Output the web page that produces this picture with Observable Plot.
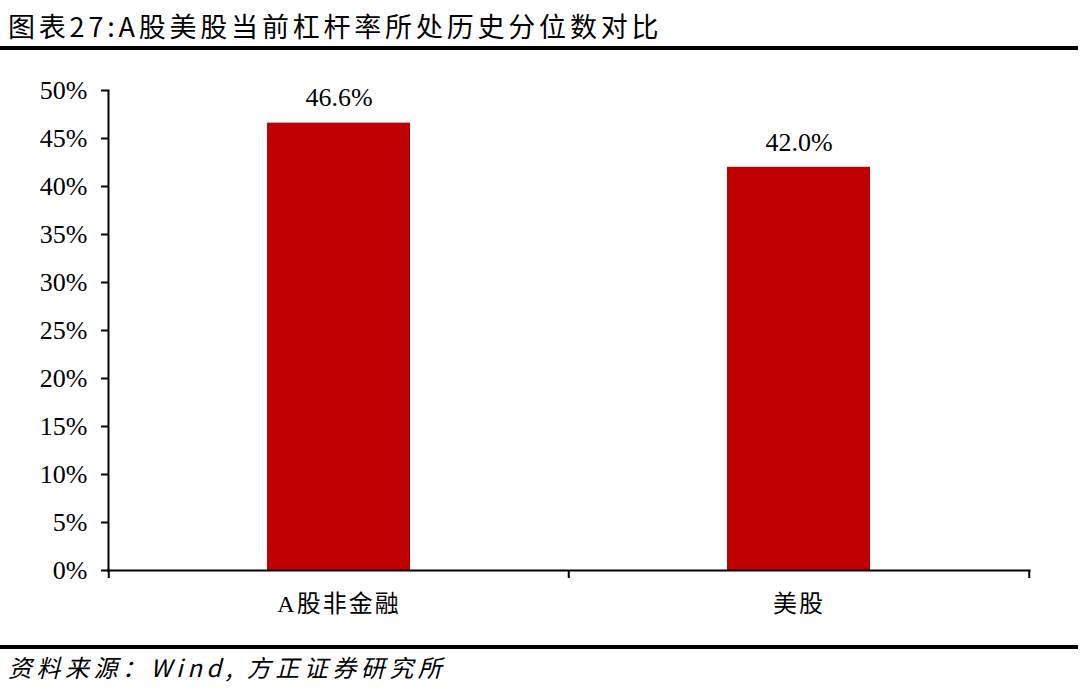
<!DOCTYPE html>
<html>
<head>
<meta charset="utf-8">
<script src="https://cdn.jsdelivr.net/npm/d3@7"></script>
<script src="https://cdn.jsdelivr.net/npm/@observablehq/plot@0.6"></script>
<style>
  html, body { margin: 0; padding: 0; background: #fff; }
  #wrap { position: relative; width: 1080px; height: 688px; overflow: hidden; }
  #title { position: absolute; left: 8px; top: 8px; font-family: "Noto Sans CJK SC", sans-serif; font-size: 27px; letter-spacing: 3.8px; color: #000; line-height: 36px; white-space: nowrap; }
  #topline { position: absolute; left: 0; top: 46px; width: 1078px; height: 4px; background: #000; }
  #botline { position: absolute; left: 0; top: 645px; width: 1078px; height: 4px; background: #000; }
  #source { position: absolute; left: 8px; top: 651px; font-family: "Noto Sans CJK SC", sans-serif; font-style: italic; font-size: 24px; letter-spacing: 4.5px; color: #000; line-height: 32px; white-space: nowrap; }
  #chart { position: absolute; left: 0; top: 0; }
  .cat text { letter-spacing: 2px; }
</style>
</head>
<body>
<div id="wrap">
  <div id="chart"></div>
  <div id="title">图表27:A股美股当前杠杆率所处历史分位数对比</div>
  <div id="topline"></div>
  <div id="botline"></div>
  <div id="source">资料来源：Wind, 方正证券研究所</div>
</div>
<script>
const categories = ["A股非金融", "美股"];
const values = [0.466, 0.420];
const valueLabels = ["46.6%", "42.0%"];
const yTicks = [0, 0.05, 0.10, 0.15, 0.20, 0.25, 0.30, 0.35, 0.40, 0.45, 0.50];

const data = categories.map((c, i) => ({category: c, value: values[i], label: valueLabels[i]}));

const width = 1080, height = 688;
const marginLeft = 108, marginRight = 51, marginTop = 90, marginBottom = 118;
const step = (width - marginLeft - marginRight) / categories.length;
const serif = "'Liberation Serif', 'Times New Roman', 'Noto Sans CJK SC', serif";

const chart = Plot.plot({
  width, height, marginLeft, marginRight, marginTop, marginBottom,
  style: {background: "transparent", color: "#000"},
  x: {domain: categories, paddingInner: 0.69, paddingOuter: 0.345, label: null},
  y: {domain: [0, 0.5], label: null},
  marks: [
    Plot.barY(data, {x: "category", y: "value", fill: "#C00000"}),
    Plot.text(data, {x: "category", y: "value", text: "label", dy: -25, fontSize: 26, fontFamily: serif, fill: "#000"}),
    Plot.frame({anchor: "left", stroke: "#000", strokeWidth: 2}),
    Plot.frame({anchor: "bottom", stroke: "#000", strokeWidth: 2}),
    Plot.ruleX(categories, {x: d => d, y1: 0, y2: 0, insetBottom: -8, dx: -step / 2, stroke: "#000", strokeWidth: 2}),
    Plot.ruleX(categories.slice(-1), {x: d => d, y1: 0, y2: 0, insetBottom: -8, dx: step / 2, stroke: "#000", strokeWidth: 2}),
    Plot.axisY({ticks: yTicks, tickFormat: d3.format(".0%"), tickSize: 7, tickPadding: 14, fontSize: 26, fontFamily: serif, stroke: "#000", strokeWidth: 2}),
    Plot.axisX({tickSize: 0, tickPadding: 24, fontSize: 24, fontFamily: serif, className: "cat"})
  ]
});
document.getElementById("chart").appendChild(chart);
</script>
</body>
</html>
